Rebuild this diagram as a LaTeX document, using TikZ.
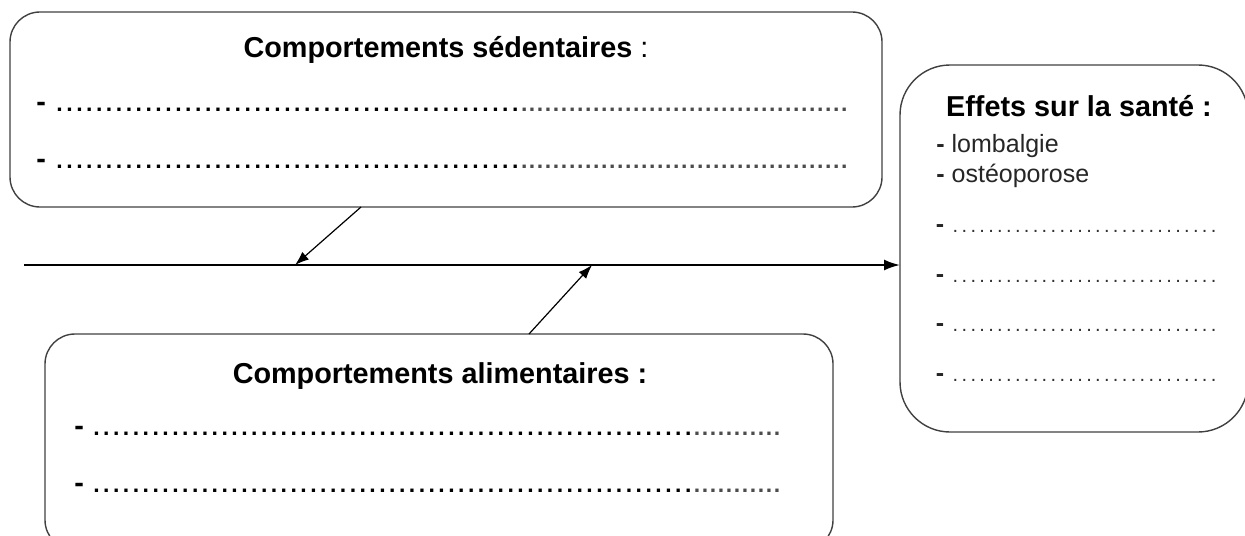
\documentclass[tikz,border=0pt]{standalone}
\usepackage{fontspec}
\setmainfont{Liberation Sans}
\usetikzlibrary{arrows.meta}
\newcommand{\dotrow}[2]{\makebox[#1][l]{\xleaders\hbox to #2{\hss.\hss}\hfill}}
\newcommand{\dotfont}{\fontsize{11.5}{13}\selectfont\bfseries}

\begin{document}
\begin{tikzpicture}[x=0.5pt,y=-0.5pt,
	box/.style={draw=black!75, line width=0.7pt, rounded corners=15pt, inner sep=0pt, outer sep=0pt},
	title/.style={anchor=base, inner sep=0pt, font=\fontsize{14.4}{17}\selectfont\bfseries},
	item/.style={anchor=base west, inner sep=0pt, font=\fontsize{14.4}{17}\selectfont},
	small item/.style={anchor=base west, inner sep=0pt, text=black!85, font=\fontsize{12.5}{15}\selectfont},
	link/.style={-{Latex[length=7pt,width=5pt]}, line width=0.6pt}]
			\useasboundingbox (0,0) rectangle (1245,535);
			\clip (0,0) rectangle (1245,535);
			% Nodes
			\node[box, minimum width=436pt, minimum height=97.5pt] (sed) at (446,109.5) {};
			\node[box, minimum width=394pt, minimum height=108pt] (alim) at (439,442) {};
			\node[box, rounded corners=25pt, minimum width=174pt, minimum height=183.5pt] (effets) at (1074,248.5) {};
			
			\node[title] (sedtitle) at (446,58) {Comportements sédentaires{\mdseries\ :}};
			\foreach \y [count=\i] in {112,168}
				\node[item] (sed\i) at (36,\y) {\textbf{-}\hspace{4.3pt}{\dotfont\dotrow{232.8pt}{4.85pt}\textcolor{black!70}{\dotrow{164pt}{4pt}}}};
			
			\node[title] (alimtitle) at (440,383) {Comportements alimentaires :};
			\foreach \y [count=\i] in {435,492}
				\node[item] (alim\i) at (74,\y) {\textbf{-}\hspace{3.8pt}{\dotfont\dotrow{300.7pt}{4.85pt}\textcolor{black!70}{\dotrow{44pt}{4pt}}}};
			
			\node[title] (effetstitle) at (1079,117) {Effets sur la santé :};
			\node[small item] (e1) at (936,152) {\textbf{-} lombalgie};
			\node[small item] (e2) at (936,182) {\textbf{-} ostéoporose};
			\foreach \y [count=\i from 3] in {232.5,282.5,331.5,381.5}
				\node[small item] (e\i) at (935.5,\y) {\textbf{-}\hspace{3.4pt}{\fontsize{10}{11}\selectfont\color{black!80}\dotrow{133.5pt}{4.45pt}}};
			
			% Connectors
			\coordinate (tail) at (24,265);
			\coordinate (src1) at (361,207);
			\coordinate (hit1) at (295,265);
			\coordinate (src2) at (529,334);
			\coordinate (hit2) at (592,265);
			\draw[-{Latex[length=8pt,width=5.5pt]}, line width=1pt] (tail) -- (tail -| effets.west);
			\draw[link] (src1) -- (hit1);
			\draw[link] (src2) -- (hit2);
			
		\end{tikzpicture}
\end{document}
